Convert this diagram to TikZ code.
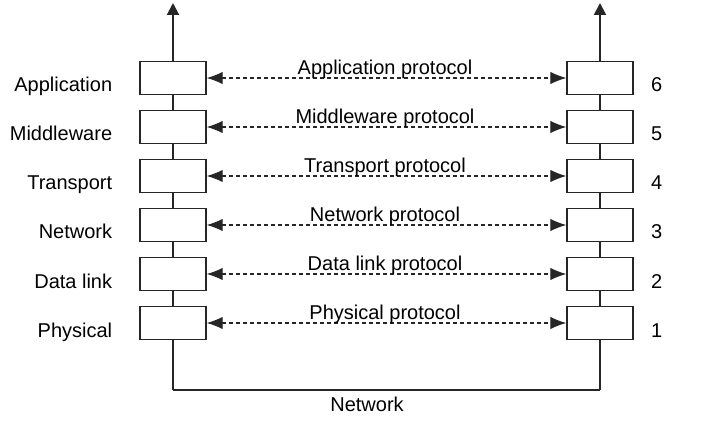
\documentclass[tikz,border=0pt]{standalone}
\usepackage{fontspec}
\setmainfont{Liberation Sans}
\usetikzlibrary{arrows.meta}
\begin{document}
\begin{tikzpicture}[x=1pt,y=-1pt,
  layerbox/.style={draw=black!85,line width=1.3pt,fill=white,minimum width=66pt,minimum height=32.5pt,inner sep=0pt},
  stack/.style={line width=2pt,black!85},
  proto/.style={line width=1.2pt,black!85,dash pattern=on 4pt off 3pt,{Latex[length=16pt,width=12.5pt]}-{Latex[length=16pt,width=12.5pt]}},
  txt/.style={font=\fontsize{20}{24}\selectfont,inner sep=0pt,text=black},
  uparrow/.style={line width=2pt,black!85,-{Triangle[length=12pt,width=12pt]}}]
\useasboundingbox (0,0) rectangle (705,425);
% stacks (drawn first, boxes cover lines)
\coordinate (Ltop) at (173,3);
\coordinate (Rtop) at (600,3);
\coordinate (BL) at (173,389.5);
\coordinate (BR) at (600,389.5);
\draw[stack] (BL) -- (BR);
\foreach \i/\yy in {6/78,5/127,4/176,3/225,2/274,1/323}{
  \node[layerbox] (L\i) at (173,\yy) {};
  \node[layerbox] (R\i) at (600,\yy) {};
}
\draw[uparrow] (L6.north) -- (Ltop);
\draw[uparrow] (R6.north) -- (Rtop);
\foreach \a/\b in {6/5,5/4,4/3,3/2,2/1}{
  \draw[stack] (L\a.south) -- (L\b.north);
  \draw[stack] (R\a.south) -- (R\b.north);
}
\draw[stack] (L1.south) -- (BL);
\draw[stack] (R1.south) -- (BR);
% protocol arrows and labels
\foreach \i/\name in {6/Application,5/Middleware,4/Transport,3/Network,2/Data link,1/Physical}{
  \draw[proto] (L\i.east) -- (R\i.west);
  \path (L\i.east) -- (R\i.west) coordinate[pos=0.5] (M\i);
  \node[txt,anchor=base] (P\i) at ([xshift=-1.5pt,yshift=3.5pt]M\i) {\name\ protocol};
  \node[txt,anchor=base east] (N\i) at ([xshift=-27pt,yshift=-14pt]L\i.west) {\name};
  \node[txt,anchor=base] (D\i) at ([xshift=23pt,yshift=-14pt]R\i.east) {\i};
}
\node[txt,anchor=base] (net) at (367,411.5) {Network};
\end{tikzpicture}
\end{document}
